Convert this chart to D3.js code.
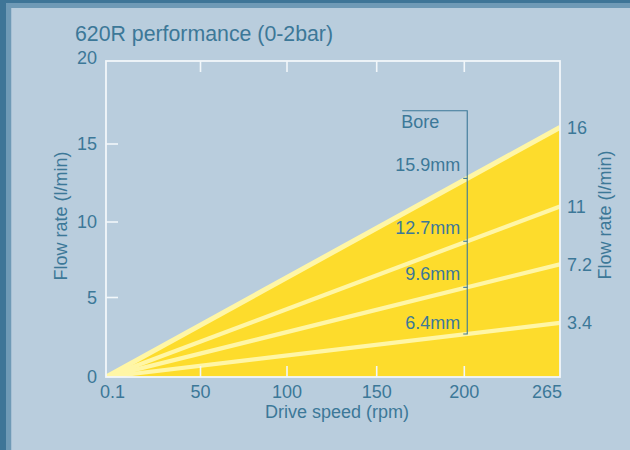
<!DOCTYPE html>
<html>
<head>
<meta charset="utf-8">
<script src="https://cdn.jsdelivr.net/npm/d3@7"></script>
<style>
  html, body { margin: 0; padding: 0; background: #b9cddd; }
  svg { display: block; font-family: "Liberation Sans", Arial, Helvetica, sans-serif; }
</style>
</head>
<body>
<svg id="chart" width="630" height="450"></svg>
<script>
// ---- data ----
const title = "620R performance (0-2bar)";
const xTickValues = [0.1, 50, 100, 150, 200, 265];
const xTickLabels = ["0.1", "50", "100", "150", "200", "265"];
const yTickValues = [0, 5, 10, 15, 20];
const yTickLabels = ["0", "5", "10", "15", "20"];
const bores = ["15.9mm", "12.7mm", "9.6mm", "6.4mm"];
const flowAtMax = [16, 11, 7.2, 3.4];          // l/min at 265 rpm
const flowLabels = ["16", "11", "7.2", "3.4"];
const speedStart = 0.1, speedEnd = 265;
const boreSpeed = 202;     // where the bore bracket sits
const boreTop = 17;        // top of bore bracket (l/min)

// ---- colours ----
const textCol = "#3c7898";
const yellow = "#fddc2c";
const pale = "#fff6a6";
const frameCol = "#f2f7fa";

const svg = d3.select("#chart");

// page frame
svg.append("rect").attr("x", 0).attr("y", 0).attr("width", 630).attr("height", 450).attr("fill", "#b9cddd");
svg.append("rect").attr("x", 0).attr("y", 0).attr("width", 630).attr("height", 8).attr("fill", "#6f9ab6");
svg.append("rect").attr("x", 0).attr("y", 0).attr("width", 11).attr("height", 450).attr("fill", "#6f9ab6");
svg.append("rect").attr("x", 0).attr("y", 0).attr("width", 630).attr("height", 3).attr("fill", "#3e7597");
svg.append("rect").attr("x", 0).attr("y", 0).attr("width", 6).attr("height", 450).attr("fill", "#3e7597");
svg.append("rect").attr("x", 11).attr("y", 8).attr("width", 1).attr("height", 442).attr("fill", "#a6c0d4");

// ---- scales (hand-drawn tick spacing, piecewise linear) ----
const x = d3.scaleLinear().domain(xTickValues).range([106, 200.5, 287, 376.7, 464.3, 560]);
const y = d3.scaleLinear().domain(yTickValues).range([377, 297.5, 222, 144, 61]);

// straight line in pixel space from origin to end value
function lineY(v, s) {
  const t = (x(s) - x(speedStart)) / (x(speedEnd) - x(speedStart));
  return y(0) + (y(v) - y(0)) * t;
}

// filled area under the largest bore
const maxFlow = d3.max(flowAtMax);
svg.append("path")
  .attr("d", d3.line().x(d => x(d[0])).y(d => y(d[1]))([[speedStart, 0], [speedEnd, maxFlow], [speedEnd, 0]]) + "Z")
  .attr("fill", yellow);

// bore lines
const lineGen = d3.line().x(d => x(d[0])).y(d => y(d[1]));
svg.append("defs").append("clipPath").attr("id", "clip")
  .append("rect").attr("x", x(speedStart)).attr("y", y(20)).attr("width", x(speedEnd) - x(speedStart)).attr("height", y(0) - y(20));
svg.append("g").attr("clip-path", "url(#clip)")
  .selectAll("path").data(flowAtMax).join("path")
  .attr("d", v => lineGen([[speedStart, 0], [speedEnd, v]]))
  .attr("stroke", pale)
  .attr("stroke-width", (v, i) => i === 0 ? 5 : 4.2)
  .attr("fill", "none");

// plot frame
svg.append("rect")
  .attr("x", x(speedStart)).attr("y", y(20))
  .attr("width", x(speedEnd) - x(speedStart)).attr("height", y(0) - y(20))
  .attr("fill", "none").attr("stroke", frameCol).attr("stroke-width", 1.8);

// ticks
const innerX = xTickValues.slice(1, -1);
const innerY = yTickValues.slice(1, -1);
svg.append("g").selectAll("line").data(innerX).join("line")
  .attr("x1", d => x(d)).attr("x2", d => x(d)).attr("y1", y(0)).attr("y2", y(0) - 11)
  .attr("stroke", frameCol).attr("stroke-width", 1.6);
svg.append("g").selectAll("line").data(innerX).join("line")
  .attr("x1", d => x(d)).attr("x2", d => x(d)).attr("y1", y(20)).attr("y2", y(20) + 11)
  .attr("stroke", frameCol).attr("stroke-width", 1.6);
svg.append("g").selectAll("line").data(innerY).join("line")
  .attr("x1", x(speedStart)).attr("x2", x(speedStart) + 12).attr("y1", d => y(d)).attr("y2", d => y(d))
  .attr("stroke", frameCol).attr("stroke-width", 1.6);

// tick labels
const fs = 18;
svg.append("g").selectAll("text").data(xTickValues).join("text")
  .attr("x", (d, i) => x(d) + (i === 0 ? -6 : i === xTickValues.length - 1 ? 2 : 0))
  .attr("y", 398)
  .attr("text-anchor", (d, i) => i === 0 ? "start" : i === xTickValues.length - 1 ? "end" : "middle")
  .attr("font-size", fs).attr("fill", textCol)
  .text((d, i) => xTickLabels[i]);
svg.append("g").selectAll("text").data(yTickValues).join("text")
  .attr("x", x(speedStart) - 9)
  .attr("y", (d, i) => y(d) + (i === yTickValues.length - 1 ? -3 : 0))
  .attr("dy", "0.35em")
  .attr("text-anchor", "end")
  .attr("font-size", fs).attr("fill", textCol)
  .text((d, i) => yTickLabels[i]);

// right-side flow labels
svg.append("g").selectAll("text").data(flowAtMax).join("text")
  .attr("x", x(speedEnd) + 7)
  .attr("y", v => y(v))
  .attr("dy", "0.35em")
  .attr("font-size", fs).attr("fill", textCol)
  .text((v, i) => flowLabels[i]);

// title & axis titles
svg.append("text").attr("x", 75).attr("y", 41).attr("font-size", 21.3).attr("fill", textCol).text(title);
svg.append("text").attr("x", 337).attr("y", 418).attr("text-anchor", "middle")
  .attr("font-size", fs).attr("fill", textCol).text("Drive speed (rpm)");
svg.append("text").attr("transform", "translate(67,216) rotate(-90)").attr("text-anchor", "middle")
  .attr("font-size", fs).attr("fill", textCol).text("Flow rate (l/min)");
svg.append("text").attr("transform", "translate(611,215) rotate(-90)").attr("text-anchor", "middle")
  .attr("font-size", fs).attr("fill", textCol).text("Flow rate (l/min)");

// bore bracket
const bx = x(boreSpeed);
const crossings = flowAtMax.map(v => lineY(v, boreSpeed));
const bracketBottom = d3.max(crossings);
svg.append("path")
  .attr("d", `M${bx - 65},${y(boreTop)}H${bx}V${bracketBottom}H${bx - 4}`)
  .attr("fill", "none").attr("stroke", textCol).attr("stroke-width", 1.1);
svg.append("g").selectAll("line").data(crossings.slice(0, -1)).join("line")
  .attr("x1", bx - 4).attr("x2", bx).attr("y1", d => d).attr("y2", d => d)
  .attr("stroke", textCol).attr("stroke-width", 1.1);
svg.append("text").attr("x", bx - 66).attr("y", y(boreTop) + 17)
  .attr("font-size", fs).attr("fill", textCol).text("Bore");
svg.append("g").selectAll("text").data(bores).join("text")
  .attr("x", bx - 7)
  .attr("y", (d, i) => crossings[i] - (i === bores.length - 1 ? 5 : 7))
  .attr("text-anchor", "end")
  .attr("font-size", fs).attr("fill", textCol)
  .text(d => d);
</script>
</body>
</html>
